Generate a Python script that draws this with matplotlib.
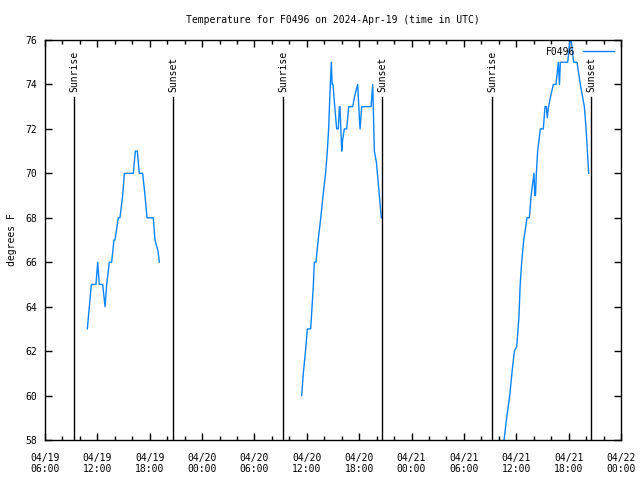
import numpy as np
import pandas as pd
import matplotlib
matplotlib.use("Agg")
import matplotlib.pyplot as plt
import matplotlib.dates as mdates
import matplotlib.transforms as mtransforms

# hours since 2024-04-19 00:00 UTC, temperature in F
day1_hours = [10.85, 11.08, 11.31, 11.84, 12.04, 12.22, 12.61, 12.88, 13.07, 13.37,
              13.64, 13.9, 14.02, 14.4, 14.59, 14.9, 15.09, 16.12, 16.35, 16.58,
              16.8, 17.19, 17.46, 17.69, 18.41, 18.6, 18.95, 19.1]
day1_temps = [63, 64, 65, 65, 66, 65, 65, 64, 65, 66,
              66, 67, 67, 68, 68, 69, 70, 70, 71, 71,
              70, 70, 69, 68, 68, 67, 66.5, 66]

day2_hours = [35.41, 35.6, 35.85, 36.06, 36.44, 36.6, 36.75, 36.86, 37.05, 37.3,
              37.6, 37.86, 38.15, 38.35, 38.5, 38.69, 38.81, 38.9, 39.0, 39.2,
              39.42, 39.61, 39.73, 39.8, 40.0, 40.1, 40.3, 40.57, 40.8, 41.26,
              41.5, 41.83, 42.02, 42.1, 42.29, 43.36, 43.55, 43.74, 43.97, 44.2,
              44.4, 44.54]
day2_temps = [60, 61, 62, 63, 63, 64, 65, 66, 66, 67,
              68, 69, 70, 71, 72, 74, 75, 74, 74, 73,
              72, 72, 73, 73, 71, 71.5, 72, 72, 73, 73,
              73.5, 74, 72.5, 72, 73, 73, 74, 71, 70.5, 69.5,
              68.6, 68]

day3_hours = [58.2, 58.6, 58.9, 59.25, 59.5, 59.78, 60.05, 60.3, 60.45, 60.62,
              60.85, 61.05, 61.23, 61.5, 61.7, 62.03, 62.12, 62.2, 62.3, 62.45,
              62.76, 63.1, 63.29, 63.45, 63.55, 63.7, 63.95, 64.25, 64.55, 64.82,
              64.95, 65.05, 65.32, 65.89, 66.16, 66.3, 66.42, 66.58, 66.96, 67.34,
              67.8, 68.0, 68.22, 68.3]
day3_temps = [57, 58, 59, 60, 61, 62, 62.2, 63.5, 65, 66,
              67, 67.5, 68, 68, 69, 70, 69, 69, 70, 71,
              72, 72, 73, 73, 72.5, 73, 73.5, 74, 74, 75,
              74, 75, 75, 75, 76, 76, 75.5, 75, 75, 74,
              73, 72, 70.5, 70]

sunrise_hours = [9.32, 33.27, 57.22]
sunset_hours = [20.67, 44.62, 68.56]

start = pd.Timestamp("2024-04-19 00:00")


def to_time(hours):
    return start + pd.to_timedelta(np.array(hours), unit="h")


plt.rcParams["font.family"] = ["DejaVu Sans Mono", "DejaVu Sans"]
plt.rcParams["font.size"] = 7

fig = plt.figure(figsize=(6.4, 4.8), dpi=100)
ax = fig.add_axes([45 / 640, 40 / 480, 576 / 640, 400 / 480])

color = "#0a84ff"
ax.plot(to_time(day1_hours), day1_temps, color=color, lw=1, label="F0496")
ax.plot(to_time(day2_hours), day2_temps, color=color, lw=1)
ax.plot(to_time(day3_hours), day3_temps, color=color, lw=1)

trans = mtransforms.blended_transform_factory(ax.transData, ax.transAxes)
for h in sunrise_hours:
    t = to_time([h])[0]
    ax.axvline(t, ymin=0, ymax=0.8575, color="black", lw=1)
    ax.text(t, 0.87, "Sunrise", rotation=90, ha="center", va="bottom", transform=trans)
for h in sunset_hours:
    t = to_time([h])[0]
    ax.axvline(t, ymin=0, ymax=0.8575, color="black", lw=1)
    ax.text(t, 0.87, "Sunset", rotation=90, ha="center", va="bottom", transform=trans)

ax.set_xlim(pd.Timestamp("2024-04-19 06:00"), pd.Timestamp("2024-04-22 00:00"))
ax.set_ylim(58, 76)
ax.set_yticks(np.arange(58, 77, 2))
ax.xaxis.set_major_locator(mdates.HourLocator(byhour=[0, 6, 12, 18]))
ax.xaxis.set_minor_locator(mdates.HourLocator(interval=2))
ax.xaxis.set_major_formatter(mdates.DateFormatter("%m/%d\n%H:%M"))
ax.tick_params(which="both", direction="in", top=True, right=True, width=1)
ax.tick_params(which="major", length=5)
ax.tick_params(axis="x", which="major", pad=9)
ax.tick_params(axis="y", which="major", pad=6)
ax.tick_params(which="minor", length=3)
for s in ax.spines.values():
    s.set_linewidth(1)

ax.set_title("Temperature for F0496 on 2024-Apr-19 (time in UTC)", fontsize=7, pad=12)
ax.set_ylabel("degrees F", labelpad=6)
ax.legend(loc="upper right", frameon=False, markerfirst=False, handlelength=3.2,
          borderaxespad=0.3, fontsize=7)

fig.savefig("out.png", dpi=100)
